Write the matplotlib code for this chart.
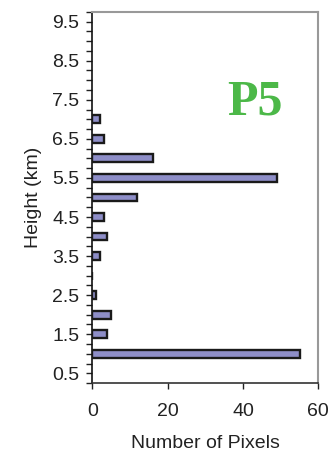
import numpy as np
import matplotlib
matplotlib.use("Agg")
import matplotlib.pyplot as plt
from matplotlib.ticker import MultipleLocator

# Histogram of pixel counts per height bin
heights_km = [1.0, 1.5, 2.0, 2.5, 3.0, 3.5, 4.0, 4.5, 5.0, 5.5, 6.0, 6.5, 7.0]
pixel_counts = [55, 4, 5, 1, 0, 2, 4, 3, 12, 49, 16, 3, 2]
ytick_labels = [0.5, 1.5, 2.5, 3.5, 4.5, 5.5, 6.5, 7.5, 8.5, 9.5]
xtick_values = [0, 20, 40, 60]

plt.rcParams['font.family'] = ['Liberation Sans', 'DejaVu Sans']

fig = plt.figure(figsize=(3.33, 4.55), dpi=100)
ax = fig.add_axes([0.277, 0.158, 0.679, 0.816])

ax.barh(heights_km, pixel_counts, height=0.2, color='#8e8ec8',
        edgecolor='#1a1a1a', linewidth=1.7, zorder=3)

ax.set_xlim(0, 60)
ax.set_ylim(0.25, 9.75)
ax.set_xticks(xtick_values)
ax.set_yticks(ytick_labels)
ax.set_yticklabels([f"{v:.1f}" for v in ytick_labels])
ax.yaxis.set_minor_locator(MultipleLocator(0.25))

ax.tick_params(axis='both', which='both', direction='out', length=4.3,
               width=1.0, color='#222222', labelsize=14, labelcolor='#222222')
ax.tick_params(axis='x', pad=10)
ax.tick_params(axis='y', pad=5)

for side in ('top', 'right'):
    ax.spines[side].set_color('#999999')
    ax.spines[side].set_linewidth(1.5)
ax.spines['left'].set_color('#111111')
ax.spines['left'].set_linewidth(1.2)
ax.spines['bottom'].set_color('#333333')
ax.spines['bottom'].set_linewidth(1.2)

ax.set_xlabel('Number of Pixels', fontsize=14, color='#222222', labelpad=11)
ax.set_ylabel('Height (km)', fontsize=14, color='#222222', labelpad=7)

ax.text(0.72, 0.757, 'P5', transform=ax.transAxes, ha='center', va='center',
        fontsize=36, fontweight='bold', color='#4cb848',
        family=['Liberation Serif', 'DejaVu Serif'])

fig.savefig('out.png', dpi=100)
